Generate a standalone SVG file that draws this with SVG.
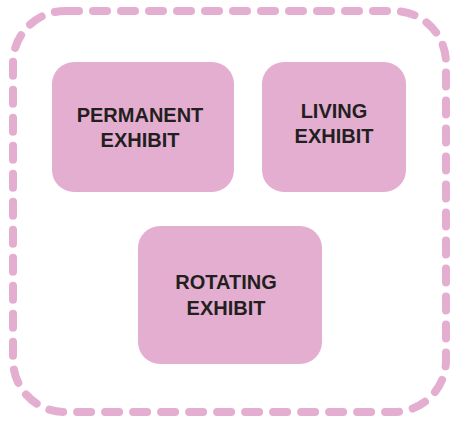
<svg xmlns="http://www.w3.org/2000/svg" width="451" height="422" viewBox="0 0 451 422">
<style>
.box{fill:#e4aed0}
.lbl{font-family:"Liberation Sans",Arial,sans-serif;font-weight:bold;font-size:20px;fill:#231f20;text-anchor:middle}
.frame{fill:none;stroke:#e4aed0;stroke-width:8;stroke-dasharray:14 14;stroke-linecap:round}
</style>
<rect class="frame" x="13" y="11" width="433" height="401" rx="52"/>
<g id="permanent">
<rect class="box" x="52" y="62" width="182" height="130" rx="22"/>
<text class="lbl" x="140" y="122">PERMANENT</text>
<text class="lbl" x="140" y="147">EXHIBIT</text>
</g>
<g id="living">
<rect class="box" x="262" y="62" width="144" height="130" rx="22"/>
<text class="lbl" x="334" y="118">LIVING</text>
<text class="lbl" x="334" y="143">EXHIBIT</text>
</g>
<g id="rotating">
<rect class="box" x="138" y="226" width="184" height="138" rx="22"/>
<text class="lbl" x="226" y="289">ROTATING</text>
<text class="lbl" x="226" y="315">EXHIBIT</text>
</g>
<g id="connectors"/>
</svg>
